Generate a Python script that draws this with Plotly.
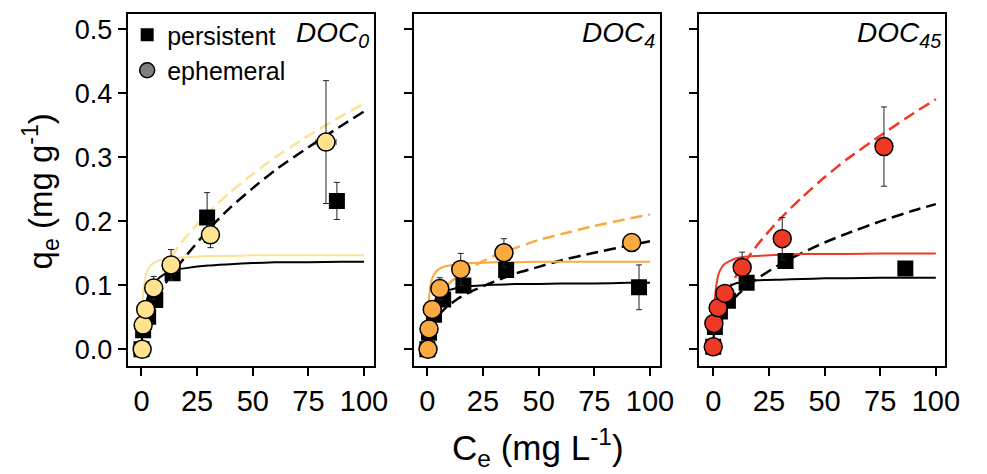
import plotly.graph_objects as go

# ---------------- data ----------------
panels = ["DOC<sub>0</sub>", "DOC<sub>4</sub>", "DOC<sub>45</sub>"]

# persistent (black squares)
pers_x1 = [0, 0.75, 3.0, 6.2, 14.0, 29.5, 87.8]
pers_y1 = [0, 0.030, 0.051, 0.077, 0.119, 0.206, 0.232]
pers_e1 = [0, 0, 0, 0, 0, 0.039, 0.029]
pers_x2 = [0, 0.75, 3.0, 7.1, 16.2, 35.4, 95.1]
pers_y2 = [0, 0.026, 0.054, 0.078, 0.100, 0.124, 0.097]
pers_e2 = [0, 0, 0, 0, 0, 0, 0.035]
pers_x3 = [0, 0.75, 3.0, 6.6, 15.0, 32.5, 86.3]
pers_y3 = [0.004, 0.035, 0.059, 0.076, 0.104, 0.138, 0.1265]
pers_e3 = [0, 0, 0, 0, 0, 0, 0]

# ephemeral (coloured circles)
eph_x1 = [0.3, 0.75, 1.9, 5.5, 13.3, 31.0, 82.9]
eph_y1 = [0, 0.038, 0.0625, 0.096, 0.132, 0.179, 0.324]
eph_e1 = [0, 0, 0, 0.018, 0.024, 0.020, 0.096]
eph_xe1 = [0, 0, 0, 0, 0, 0, 4.5]
eph_x2 = [0.3, 0.75, 2.2, 5.6, 15.0, 34.4, 91.8]
eph_y2 = [0, 0.032, 0.0625, 0.095, 0.125, 0.151, 0.167]
eph_e2 = [0, 0, 0, 0.017, 0.025, 0.022, 0]
eph_xe2 = [0, 0, 0, 0, 0, 0, 0]
eph_x3 = [0, 0.3, 2.2, 5.2, 13.0, 31.0, 76.7]
eph_y3 = [0.004, 0.0406, 0.065, 0.0875, 0.128, 0.173, 0.317]
eph_e3 = [0.008, 0, 0, 0, 0.024, 0.033, 0.062]
eph_xe3 = [0, 0, 0, 0, 0, 0, 0]

# fitted curves
sol_x = [0, 0.5, 1, 2, 3, 5, 8, 10, 15, 20, 30, 40, 50, 60, 75, 90, 100]
sol_pers1 = [0, 0.028, 0.047, 0.070, 0.084, 0.100, 0.112, 0.117, 0.124, 0.127, 0.131, 0.133, 0.135, 0.136, 0.136, 0.137, 0.137]
sol_eph1 = [0, 0.070, 0.096, 0.116, 0.126, 0.134, 0.139, 0.141, 0.143, 0.144, 0.146, 0.146, 0.147, 0.147, 0.147, 0.147, 0.147]
sol_pers2 = [0, 0.030, 0.047, 0.065, 0.074, 0.084, 0.091, 0.093, 0.097, 0.099, 0.101, 0.102, 0.102, 0.103, 0.103, 0.104, 0.104]
sol_eph2 = [0, 0.066, 0.090, 0.109, 0.117, 0.125, 0.130, 0.131, 0.134, 0.135, 0.136, 0.136, 0.137, 0.137, 0.137, 0.137, 0.137]
sol_pers3 = [0, 0.038, 0.057, 0.075, 0.085, 0.094, 0.100, 0.103, 0.106, 0.108, 0.109, 0.110, 0.111, 0.111, 0.112, 0.112, 0.112]
sol_eph3 = [0, 0.062, 0.089, 0.112, 0.123, 0.133, 0.139, 0.142, 0.145, 0.146, 0.148, 0.149, 0.149, 0.149, 0.150, 0.150, 0.150]

dash_x = [1, 2, 3, 5, 8, 10, 15, 20, 30, 40, 50, 60, 75, 90, 100]
dash_pers1 = [0.027, 0.040, 0.050, 0.066, 0.087, 0.099, 0.124, 0.146, 0.187, 0.222, 0.252, 0.280, 0.316, 0.350, 0.372]
dash_eph1 = [0.041, 0.058, 0.070, 0.090, 0.113, 0.126, 0.153, 0.176, 0.214, 0.246, 0.274, 0.300, 0.334, 0.365, 0.384]
dash_pers2 = [0.029, 0.038, 0.044, 0.053, 0.064, 0.070, 0.082, 0.091, 0.106, 0.119, 0.129, 0.139, 0.151, 0.162, 0.169]
dash_eph2 = [0.051, 0.064, 0.072, 0.084, 0.097, 0.104, 0.118, 0.129, 0.146, 0.159, 0.171, 0.180, 0.193, 0.204, 0.211]
dash_pers3 = [0.030, 0.040, 0.048, 0.060, 0.074, 0.082, 0.098, 0.111, 0.133, 0.151, 0.167, 0.181, 0.200, 0.217, 0.227]
dash_eph3 = [0.033, 0.047, 0.059, 0.078, 0.100, 0.113, 0.140, 0.164, 0.204, 0.238, 0.269, 0.297, 0.334, 0.369, 0.391]

x_ticks = [0, 25, 50, 75, 100]
y_ticks = [0.0, 0.1, 0.2, 0.3, 0.4, 0.5]

# ---------------- styling ----------------
FONT = "Arial, Liberation Sans, sans-serif"
W, H = 987, 474
marker_fill = ["#FFE38F", "#F9AA40", "#EE3A24"]
line_col = ["#FBE396", "#F9AA40", "#EE3A24"]

pers = [(pers_x1, pers_y1, pers_e1), (pers_x2, pers_y2, pers_e2), (pers_x3, pers_y3, pers_e3)]
eph = [(eph_x1, eph_y1, eph_e1, eph_xe1), (eph_x2, eph_y2, eph_e2, eph_xe2), (eph_x3, eph_y3, eph_e3, eph_xe3)]
sol = [(sol_pers1, sol_eph1), (sol_pers2, sol_eph2), (sol_pers3, sol_eph3)]
dsh = [(dash_pers1, dash_eph1), (dash_pers2, dash_eph2), (dash_pers3, dash_eph3)]

fig = go.Figure()
for i in range(3):
    xa = "x" if i == 0 else f"x{i+1}"
    ya = "y" if i == 0 else f"y{i+1}"
    dp, de = dsh[i]
    sp, se = sol[i]
    fig.add_trace(go.Scatter(x=dash_x, y=de, xaxis=xa, yaxis=ya, mode="lines", showlegend=False,
                             line=dict(color=line_col[i], width=2.5, dash="12px,6px", shape="spline", smoothing=0.6)))
    fig.add_trace(go.Scatter(x=dash_x, y=dp, xaxis=xa, yaxis=ya, mode="lines", showlegend=False,
                             line=dict(color="black", width=2.5, dash="12px,6px", shape="spline", smoothing=0.6)))
    fig.add_trace(go.Scatter(x=sol_x, y=se, xaxis=xa, yaxis=ya, mode="lines", showlegend=False,
                             line=dict(color=line_col[i], width=2, shape="spline", smoothing=0.5)))
    fig.add_trace(go.Scatter(x=sol_x, y=sp, xaxis=xa, yaxis=ya, mode="lines", showlegend=False,
                             line=dict(color="black", width=2, shape="spline", smoothing=0.5)))
    px_, py_, pe_ = pers[i]
    fig.add_trace(go.Scatter(x=px_, y=py_, xaxis=xa, yaxis=ya, mode="markers", showlegend=False,
                             error_y=dict(type="data", array=pe_, color="#222", thickness=1, width=3),
                             marker=dict(symbol="square", size=16, color="black", line=dict(width=0))))
    ex_, ey_, ee_, exe_ = eph[i]
    fig.add_trace(go.Scatter(x=ex_, y=ey_, xaxis=xa, yaxis=ya, mode="markers", showlegend=False,
                             error_y=dict(type="data", array=ee_, color="#222", thickness=1, width=3),
                             error_x=dict(type="data", array=exe_, color="#222", thickness=1, width=3),
                             marker=dict(symbol="circle", size=18, color=marker_fill[i],
                                         line=dict(width=1.5, color="black"))))

# legend entries
fig.add_trace(go.Scatter(x=[None], y=[None], mode="markers", name="persistent",
                         marker=dict(symbol="square", size=13, color="black")))
fig.add_trace(go.Scatter(x=[None], y=[None], mode="markers", name="ephemeral",
                         marker=dict(symbol="circle", size=15, color="#7f7f7f", line=dict(width=1.5, color="black"))))

px_left = [129.5, 419.5, 709.5]
pw = 249.5
ydom = [1 - 366 / H, 1 - 13.5 / H]
layout = dict(
    width=W, height=H, margin=dict(l=0, r=0, t=0, b=0),
    paper_bgcolor="white", plot_bgcolor="white",
    font=dict(family=FONT, color="black"),
    showlegend=True,
    legend=dict(x=129 / W, y=1 - 12 / H, xanchor="left", yanchor="top", bgcolor="rgba(0,0,0,0)",
                font=dict(size=25, family=FONT), tracegroupgap=0, itemwidth=30),
)
for i in range(3):
    xk = "xaxis" if i == 0 else f"xaxis{i+1}"
    yk = "yaxis" if i == 0 else f"yaxis{i+1}"
    ya = "y" if i == 0 else f"y{i+1}"
    xa = "x" if i == 0 else f"x{i+1}"
    layout[xk] = dict(domain=[px_left[i] / W, (px_left[i] + pw) / W], range=[-6.2, 104.3], anchor=ya,
                      tickvals=x_ticks, ticks="outside", ticklen=8, tickwidth=1.5, tickcolor="black",
                      showline=True, linewidth=2, linecolor="black", mirror=True, showgrid=False, zeroline=False,
                      tickfont=dict(size=29, family=FONT))
    layout[yk] = dict(domain=ydom, range=[-0.026, 0.525], anchor=xa,
                      tickvals=y_ticks, tickformat=".1f", showticklabels=(i == 0),
                      ticks="outside", ticklen=8, tickwidth=1.5, tickcolor="black",
                      showline=True, linewidth=2, linecolor="black", mirror=True, showgrid=False, zeroline=False,
                      tickfont=dict(size=27, family=FONT))
fig.update_layout(**layout)

for i in range(3):
    xa = "x" if i == 0 else f"x{i+1}"
    ya = "y" if i == 0 else f"y{i+1}"
    fig.add_annotation(text=f"<i>{panels[i]}</i>", xref=f"{xa} domain", yref=f"{ya} domain",
                       x=0.99, y=0.995, xanchor="right", yanchor="top", showarrow=False,
                       font=dict(size=28, family=FONT))

fig.add_annotation(text="C<sub>e</sub> (mg L<sup>-1</sup>)", xref="paper", yref="paper",
                   x=546 / W, y=1 - 447 / H, xanchor="center", yanchor="middle", showarrow=False,
                   font=dict(size=35, family=FONT))
fig.add_annotation(text="q<sub>e</sub> (mg g<sup>-1</sup>)", xref="paper", yref="paper",
                   x=41 / W, y=1 - 191 / H, xanchor="center", yanchor="middle", showarrow=False, textangle=-90,
                   font=dict(size=33, family=FONT))

fig.write_html("out.html", config={"displayModeBar": False},
               post_script="document.body.style.margin='0';document.body.style.padding='0';")
